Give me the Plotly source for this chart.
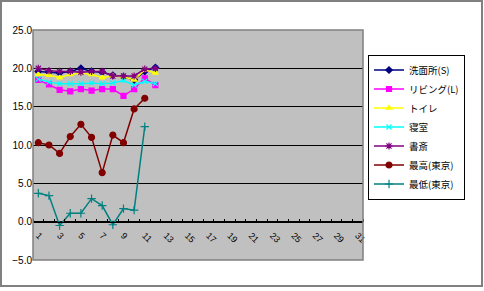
import plotly.graph_objects as go

days = list(range(1, 32))
day_labels = [str(d) for d in range(1, 32, 2)]

senmen = [19.6, 19.5, 19.4, 19.6, 20.0, 19.6, 19.5, 19.1, 18.9, 18.5, 19.6, 20.1]
living = [18.5, 17.9, 17.2, 17.0, 17.3, 17.1, 17.3, 17.3, 16.4, 17.3, 18.7, 17.8]
toilet = [19.2, 19.1, 18.8, 19.2, 19.4, 19.2, 18.8, 19.0, 18.9, 18.5, 19.8, 19.4]
shinshitsu = [18.6, 18.2, 18.0, 18.0, 18.0, 18.1, 18.0, 18.1, 18.4, 17.8, 18.3, 18.0]
shosai = [20.0, 19.7, 19.6, 19.6, 19.5, 19.6, 19.6, 19.0, 19.0, 19.0, 19.9, 20.0]
tokyo_max = [10.3, 10.0, 8.9, 11.1, 12.7, 11.0, 6.4, 11.3, 10.3, 14.7, 16.1]
tokyo_min = [3.7, 3.4, -0.5, 1.1, 1.1, 3.0, 2.1, -0.4, 1.7, 1.5, 12.4]

names = ["洗面所(S)", "リビング(L)", "トイレ", "寝室", "書斎", "最高(東京)", "最低(東京)"]
series = [senmen, living, toilet, shinshitsu, shosai, tokyo_max, tokyo_min]
colors = ["#000080", "#FF00FF", "#FFFF00", "#00FFFF", "#800080", "#800000", "#008080"]
symbols = ["diamond", "square", "triangle-up", "x-thin-open", "asterisk-open", "circle", "cross-thin-open"]
sizes = [5, 5, 5, 5, 6, 6, 6]

fig = go.Figure()
for nm, ys, c, s, sz in zip(names, series, colors, symbols, sizes):
    fig.add_trace(go.Scatter(
        x=days[:len(ys)], y=ys, name=nm, mode="lines+markers",
        line=dict(color=c, width=1.5),
        marker=dict(symbol=s, size=sz, color=c, line=dict(color=c, width=1.2)),
    ))

L, R, T, B = 33, 121, 30, 31
W, H = 484, 291
pw, ph = W - L - R, H - T - B

def px(x):
    return (x - L) / pw

def py(y):
    return (H - B - y) / ph

fig.update_layout(
    width=W, height=H,
    margin=dict(l=L, r=R, t=T, b=B),
    paper_bgcolor="white",
    plot_bgcolor="#C0C0C0",
    font=dict(family="Liberation Sans, Noto Sans CJK JP", size=9, color="#000000"),
    showlegend=True,
    legend=dict(
        x=px(368), y=py(127), xanchor="left", yanchor="middle",
        bgcolor="white", bordercolor="#000000", borderwidth=1,
        font=dict(size=9.5, family="Noto Sans CJK JP"),
        itemwidth=30, tracegroupgap=0,
    ),
    xaxis=dict(
        range=[0.5, 31.5],
        tickmode="array",
        tickvals=list(range(1, 32, 2)),
        ticktext=day_labels,
        tickangle=45,
        ticks="",
        ticklabelstandoff=4,
        showgrid=False,
        zeroline=False,
        showline=True, linecolor="#000000", linewidth=1,
        anchor="free", position=5 / 30,
        minor=dict(tickvals=[d + 0.5 for d in range(0, 32)], ticks="inside",
                   ticklen=3, tickcolor="#000000", showgrid=False),
        tickfont=dict(size=9),
        fixedrange=True,
    ),
    yaxis=dict(
        range=[-5, 25], dtick=5, tickformat=".1f",
        showgrid=True, gridcolor="#000000", gridwidth=1,
        zeroline=False,
        ticks="", showline=False,
        tickfont=dict(size=10),
        fixedrange=True,
    ),
    shapes=[
        dict(type="rect", xref="paper", yref="paper", x0=0, x1=1, y0=0, y1=1,
             line=dict(color="#808080", width=1.5), layer="above"),
        dict(type="rect", xref="paper", yref="paper",
             x0=px(1), x1=px(482), y0=py(286), y1=py(1),
             line=dict(color="#808080", width=2), layer="above"),
    ],
)

fig.write_html("out.html")
